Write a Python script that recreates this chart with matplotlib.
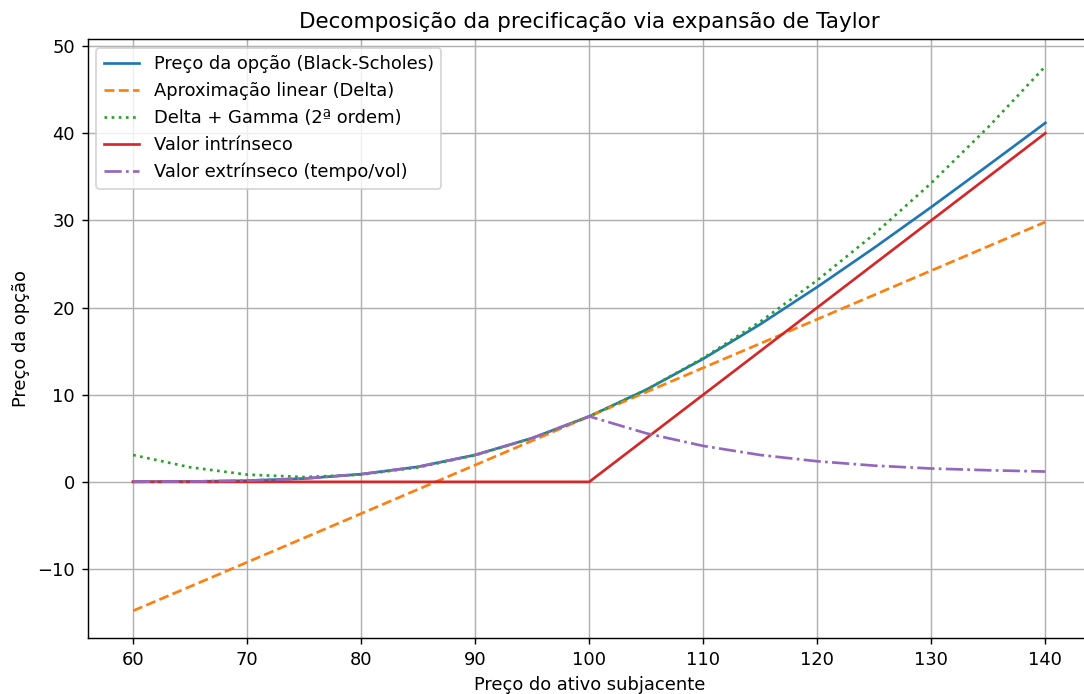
import matplotlib
matplotlib.use("Agg")
import matplotlib.pyplot as plt

# preços do ativo subjacente (eixo x)
spot = [60, 65, 70, 75, 80, 85, 90, 95, 100, 105, 110, 115, 120, 125, 130, 135, 140]

# valores
bs_price = [0.01, 0.04, 0.14, 0.38, 0.88, 1.73, 3.09, 5.02, 7.51, 10.57, 14.12,
            18.08, 22.36, 26.86, 31.53, 36.33, 41.18]
delta_approx = [-14.79, -12.01, -9.22, -6.43, -3.64, -0.85, 1.93, 4.72, 7.51, 10.30,
                13.09, 15.87, 18.66, 21.45, 24.24, 27.03, 29.81]
delta_gamma = [3.08, 1.67, 0.83, 0.55, 0.83, 1.66, 3.05, 5.00, 7.51, 10.58, 14.21,
               18.38, 23.13, 28.43, 34.29, 40.71, 47.68]
intrinsic = [0, 0, 0, 0, 0, 0, 0, 0, 0, 5, 10, 15, 20, 25, 30, 35, 40]
extrinsic = [0.01, 0.04, 0.14, 0.38, 0.88, 1.73, 3.09, 5.02, 7.51, 5.57, 4.12,
             3.08, 2.36, 1.86, 1.53, 1.33, 1.18]

W, H = 1084, 694
DPI = 129  # the reference looks rendered about 1.3x larger than 100 dpi
fig = plt.figure(figsize=(W / DPI, H / DPI), dpi=DPI)
# the original is cropped on the right, so the axes run slightly past the canvas
ax = fig.add_axes([87.5 / W, 1 - 638 / H, (1091 - 87.5) / W, (638 - 39) / H])

ax.plot(spot, bs_price, label="Preço da opção (Black-Scholes)")
ax.plot(spot, delta_approx, "--", label="Aproximação linear (Delta)")
ax.plot(spot, delta_gamma, ":", label="Delta + Gamma (2ª ordem)")
ax.plot(spot, intrinsic, "-", color="tab:red", label="Valor intrínseco")
ax.plot(spot, extrinsic, "-.", color="tab:purple", label="Valor extrínseco (tempo/vol)")
ax.set_xlim(56, 144)
ax.spines["right"].set_visible(False)  # falls outside the cropped canvas

ax.set_title("Decomposição da precificação via expansão de Taylor")
ax.set_xlabel("Preço do ativo subjacente")
ax.set_ylabel("Preço da opção")
ax.grid(True)
ax.legend(loc="upper left")

fig.savefig("out.png", dpi=DPI)
